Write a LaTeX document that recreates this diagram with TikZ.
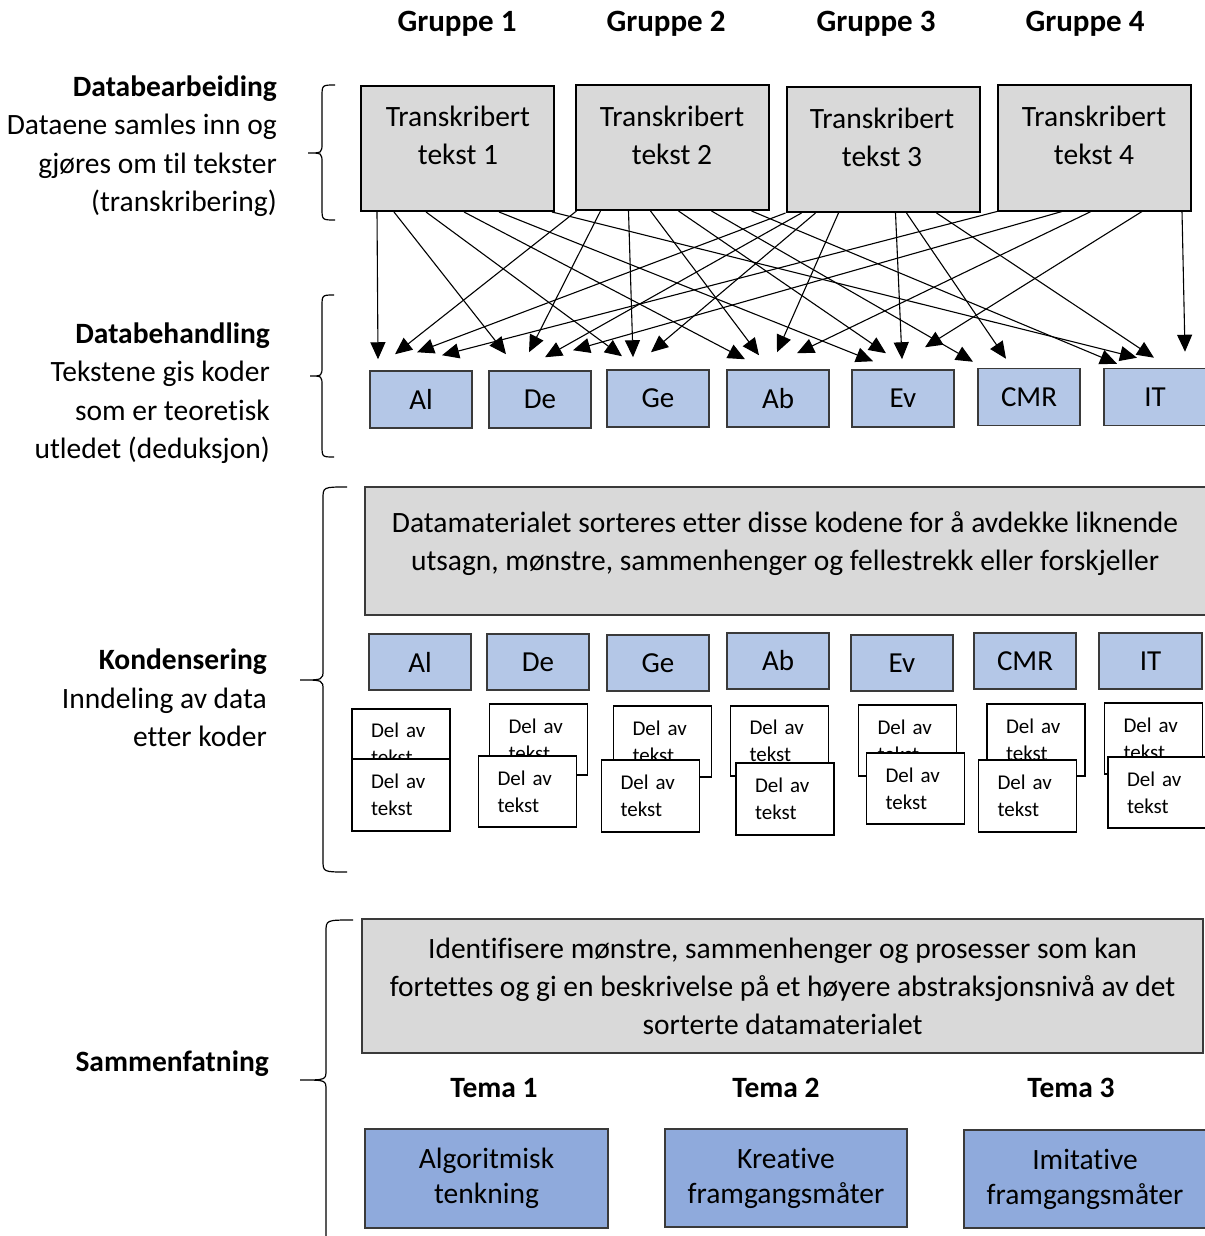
\documentclass[tikz,border=0pt]{standalone}
\usepackage{fontspec}
\setmainfont[Ligatures=NoCommon]{Carlito}
\usetikzlibrary{arrows.meta,calc}
\definecolor{boxgray}{HTML}{D9D9D9}
\definecolor{codeblue}{HTML}{B4C7E7}
\definecolor{themeblue}{HTML}{8FAADC}
\definecolor{edgegray}{HTML}{3A3A3A}
\newcommand\mybrace[6]{\draw[br] (#1,#4) .. controls (#2,#4) .. (#2,#4+12) -- (#2,#5-10) .. controls (#2,#5) .. (#3,#5) .. controls (#2,#5) .. (#2,#5+10) -- (#2,#6-12) .. controls (#2,#6) .. (#1,#6);}
\begin{document}
\begin{tikzpicture}[x=1pt,y=-1pt,
  txt/.style={font=\fontsize{29.5}{38}\selectfont, align=center, inner sep=0},
  lefttxt/.style={font=\fontsize{29.5}{38.5}\selectfont, align=right, inner sep=0, anchor=east},
  hdr/.style={font=\fontsize{31}{34}\selectfont\bfseries, inner sep=0},
  temahdr/.style={font=\fontsize{29.5}{34}\selectfont\bfseries, inner sep=0},
  trbox/.style={draw=black, line width=2pt, fill=boxgray, minimum width=193pt, minimum height=125pt, inner sep=0},
  codebox/.style={draw=edgegray, line width=1.5pt, fill=codeblue, minimum width=102pt, minimum height=57pt, inner sep=0, font=\fontsize{29}{34}\selectfont},
  delbox/.style={draw=black, line width=1.8pt, fill=white, minimum width=98pt, minimum height=71pt, text width=60pt, align=left, inner xsep=19pt, inner ysep=0, font=\fontsize{21}{27}\selectfont},
  bigbox/.style={draw=edgegray, line width=1.5pt, fill=boxgray, inner sep=0},
  themebox/.style={draw=edgegray, line width=2pt, fill=themeblue, minimum width=242pt, minimum height=98pt, align=center, inner sep=0, font=\fontsize{29.5}{35}\selectfont},
  arr/.style={line width=1.1pt, -{Triangle[length=17pt,width=15pt]}},
  br/.style={line width=1.2pt}]
\useasboundingbox (0,0) rectangle (1204,1236);

% headers
\node[hdr] (g1) at (457,24) {Gruppe 1};
\node[hdr] (g2) at (666,24) {Gruppe 2};
\node[hdr] (g3) at (876,24) {Gruppe 3};
\node[hdr] (g4) at (1085,24) {Gruppe 4};

% left labels
\node[lefttxt] (lab1) at (277,146) {\textbf{Databearbeiding}\\Dataene samles inn og\\gjøres om til tekster\\(transkribering)};
\node[lefttxt] (lab2) at (270,393) {\textbf{Databehandling}\\Tekstene gis koder\\som er teoretisk\\utledet (deduksjon)};
\node[lefttxt] (lab3) at (267,698) {\textbf{Kondensering}\\Inndeling av data\\etter koder};
\node[lefttxt] (lab4) at (269,1064) {\textbf{Sammenfatning}};

% braces
\mybrace{335}{322}{308}{85}{153}{220}
\mybrace{334}{322}{310}{295}{376}{457}
\mybrace{347}{323}{300}{487}{680}{872}
\mybrace{353}{326}{300}{920}{1080}{1250}

% transcribed texts
\node[trbox] (t1) at (457.5,148.5) {};
\node[trbox] (t2) at (672,147.5) {};
\node[trbox] (t3) at (883,149.5) {};
\node[trbox] (t4) at (1094.5,148) {};
\node[txt] (t1l) at (458,135) {Transkribert\\tekst 1};
\node[txt] (t2l) at (672,135) {Transkribert\\tekst 2};
\node[txt] (t3l) at (882,137) {Transkribert\\tekst 3};
\node[txt] (t4l) at (1094,135) {Transkribert\\tekst 4};

% codes row 1
\node[codebox] (al1) at (421,399.5) {Al};
\node[codebox] (de1) at (540,399.5) {De};
\node[codebox] (ge1) at (658,398.5) {Ge};
\node[codebox] (ab1) at (778,398.5) {Ab};
\node[codebox] (ev1) at (903,398.5) {Ev};
\node[codebox] (cmr1) at (1029,397) {CMR};
\node[codebox] (it1) at (1155,397) {IT};

% arrows box 1
\draw[arr] ($(t1.south west)+(17,0)$) -- ($(al1.north)+(-43,-11)$);
\draw[arr] ($(t1.south west)+(34,0)$) -- ($(de1.north)+(-34,-16)$);
\draw[arr] ($(t1.south west)+(66,0)$) -- ($(ge1.north)+(-36,-13)$);
\draw[arr] ($(t1.south west)+(104,0)$) -- ($(ab1.north)+(-33,-10)$);
\draw[arr] ($(t1.south west)+(139,0)$) -- ($(ev1.north)+(-30,-8)$);
\draw[arr] ($(t1.south west)+(192,0)$) -- ($(it1.north)+(-18,-10)$);
% arrows box 2
\draw[arr] ($(t2.south west)+(2,0)$) -- ($(al1.north)+(-26,-16)$);
\draw[arr] ($(t2.south west)+(26,0)$) -- ($(de1.north)+(-11,-18)$);
\draw[arr] ($(t2.south west)+(54,0)$) -- ($(ge1.north)+(-25,-12)$);
\draw[arr] ($(t2.south west)+(76,0)$) -- ($(ab1.north)+(-19,-14)$);
\draw[arr] ($(t2.south west)+(104,0)$) -- ($(ev1.north)+(-17,-16)$);
\draw[arr] ($(t2.south west)+(137,0)$) -- ($(cmr1.north)+(-56,-6)$);
\draw[arr] ($(t2.south west)+(177,0)$) -- ($(it1.north)+(-38,-4)$);
% arrows box 3
\draw[arr] ($(t3.south west)+(0,0)$) -- ($(al1.north)+(-4,-18)$);
\draw[arr] ($(t3.south west)+(16,0)$) -- ($(de1.north)+(5,-13)$);
\draw[arr] ($(t3.south west)+(30,0)$) -- ($(ge1.north)+(-7,-17)$);
\draw[arr] ($(t3.south west)+(53,0)$) -- ($(ab1.north)+(-1,-17)$);
\draw[arr] ($(t3.south west)+(110,0)$) -- ($(ev1.north)+(-1,-10)$);
\draw[arr] ($(t3.south west)+(121,0)$) -- ($(cmr1.north)+(-23,-9)$);
\draw[arr] ($(t3.south west)+(151,0)$) -- ($(it1.north)+(-1,-10)$);
% arrows box 4
\draw[arr] ($(t4.south west)+(0,0)$) -- ($(al1.north)+(21,-15)$);
\draw[arr] ($(t4.south west)+(65,0)$) -- ($(de1.north)+(33,-20)$);
\draw[arr] ($(t4.south west)+(94,0)$) -- ($(ab1.north)+(19,-16)$);
\draw[arr] ($(t4.south west)+(145,0)$) -- ($(ev1.north)+(22,-22)$);
\draw[arr] ($(t4.south west)+(185,0)$) -- ($(it1.north)+(30,-16)$);

% sorting box
\node[bigbox, minimum width=841pt, minimum height=128pt] (dm) at (785.5,551) {};
\node[txt] (dml) at (785,544) {Datamaterialet sorteres etter disse kodene for å avdekke liknende\\utsagn, mønstre, sammenhenger og fellestrekk eller forskjeller};

% codes row 2
\node[codebox, minimum height=56pt] (al2) at (420,662) {Al};
\node[codebox, minimum height=56pt] (de2) at (538,662) {De};
\node[codebox, minimum height=56pt] (ge2) at (658,663) {Ge};
\node[codebox, minimum height=56pt] (ab2) at (778,661) {Ab};
\node[codebox, minimum height=56pt] (ev2) at (902,663) {Ev};
\node[codebox, minimum height=56pt] (cmr2) at (1025,661) {CMR};
\node[codebox, minimum height=56pt, minimum width=103pt] (it2) at (1150.5,661) {IT};

% del av tekst boxes (back)
\node[delbox, minimum height=70pt] (d1a) at (401,744) {Del av\\tekst};
\node[delbox] (d2a) at (538.5,739.5) {Del av\\tekst};
\node[delbox] (d3a) at (662.5,741.5) {Del av\\tekst};
\node[delbox, minimum height=70pt] (d4a) at (779.5,741) {Del av\\tekst};
\node[delbox] (d5a) at (907.5,740.5) {Del av\\tekst};
\node[delbox, minimum height=72pt] (d6a) at (1036,740) {Del av\\tekst};
\node[delbox] (d7a) at (1153.5,738.5) {Del av\\tekst};
% front
\node[delbox, minimum height=72pt] (d1b) at (401,795) {Del av\\tekst};
\node[delbox] (d2b) at (527.5,791.5) {Del av\\tekst};
\node[delbox, minimum height=72pt] (d3b) at (650.5,796) {Del av\\tekst};
\node[delbox, minimum height=72pt] (d4b) at (785,799) {Del av\\tekst};
\node[delbox] (d5b) at (915.5,788.5) {Del av\\tekst};
\node[delbox, minimum height=72pt] (d6b) at (1027.5,796) {Del av\\tekst};
\node[delbox] (d7b) at (1157,792.5) {Del av\\tekst};

% summary box
\node[bigbox, txt, draw=edgegray, fill=boxgray, minimum width=841pt, minimum height=134pt] (id) at (782.5,986) {Identifisere mønstre, sammenhenger og prosesser som kan\\fortettes og gi en beskrivelse på et høyere abstraksjonsnivå av det\\sorterte datamaterialet};

% themes
\node[temahdr] (tm1) at (494,1088) {Tema 1};
\node[temahdr] (tm2) at (776,1088) {Tema 2};
\node[temahdr] (tm3) at (1071,1088) {Tema 3};
\node[themebox, minimum width=243pt, minimum height=99pt] (th1) at (486.5,1178.5) {Algoritmisk\\tenkning};
\node[themebox] (th2) at (786,1178) {Kreative\\framgangsmåter};
\node[themebox] (th3) at (1085,1179) {Imitative\\framgangsmåter};
\end{tikzpicture}
\end{document}
